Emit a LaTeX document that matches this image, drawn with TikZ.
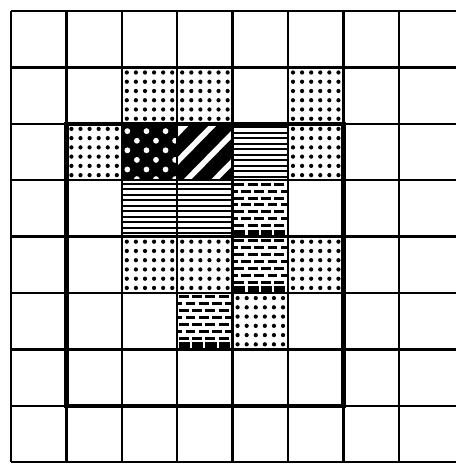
\documentclass[tikz,border=0pt]{standalone}
\usetikzlibrary{calc}

% cell fillings, (#1,#2) = top left corner of the cell
\newcommand{\dotcell}[2]{%
  \foreach \i in {0,...,5}
    \foreach \j in {0,...,5}
      \fill ({#1+0.09+0.164*\i},{#2+0.09+0.164*\j}) circle[radius=0.038];}

\newcommand{\linecell}[2]{%
  \foreach \j in {0,...,9}
    \draw[hatchline] (#1,{#2+0.06+0.098*\j}) -- ++(1,0);}

\newcommand{\stripecell}[2]{%
  \begin{scope}
    \clip (#1,#2) rectangle ++(1,1);
    \foreach \k in {0.42,0.92,1.42,1.92}
      \draw[stripeline] ({#1+\k+0.6},{#2-0.6}) -- ({#1+\k-1.6},{#2+1.6});
  \end{scope}}

\newcommand{\diamcell}[2]{%
  \fill (#1,#2) rectangle ++(1,1);
  \begin{scope}
    \clip (#1,#2) rectangle ++(1,1);
    \foreach \j in {0,...,5}
      \foreach \i in {0,...,3}
        \fill[white] ({#1+0.1+0.172*mod(\j,2)+0.345*\i},{#2+0.13+0.17*\j}) circle[radius=0.052];
  \end{scope}}

\newcommand{\brickcell}[2]{%
  \begin{scope}
    \clip (#1,#2) rectangle ++(1,1);
    \foreach \j in {0,...,6}
      \foreach \i in {0,...,4}
        \draw[brickdash] ({#1+0.03-0.12*mod(\j,2)+0.24*\i},{#2+0.07+0.123*\j}) -- ++(0.18,0);
    \foreach \i in {0,...,4}
      \draw[brickdash, line width=2pt] ({#1+0.03+0.24*\i},{#2+0.94}) -- ++(0.2,0);
  \end{scope}}

\begin{document}
\begin{tikzpicture}[
  x=0.55cm, y=-0.56cm,
  gridline/.style={line width=0.7pt},
  frameline/.style={line width=1.3pt},
  hatchline/.style={line width=0.6pt},
  stripeline/.style={line width=3.9pt},
  brickdash/.style={line width=0.85pt},
]

% Background
\fill[white] (-0.199,-0.195) rectangle (8.033,8.067);
\useasboundingbox (-0.199,-0.195) rectangle (8.033,8.067);

% --- Patterned cells ---
\dotcell{2}{1} \dotcell{3}{1} \dotcell{5}{1}
\dotcell{1}{2} \diamcell{2}{2} \stripecell{3}{2} \linecell{4}{2} \dotcell{5}{2}
\linecell{2}{3} \linecell{3}{3} \brickcell{4}{3}
\dotcell{2}{4} \dotcell{3}{4} \brickcell{4}{4} \dotcell{5}{4}
\brickcell{3}{5} \dotcell{4}{5}

% --- Grid ---
\foreach \r in {0,...,8}
  \draw[gridline] (0,\r) -- (8.033,\r);
\foreach \c in {0,...,7}
  \draw[gridline] (\c,0) -- (\c,8);

% Thick frame
\draw[frameline] (1,2) rectangle (6,7);

\end{tikzpicture}
\end{document}
